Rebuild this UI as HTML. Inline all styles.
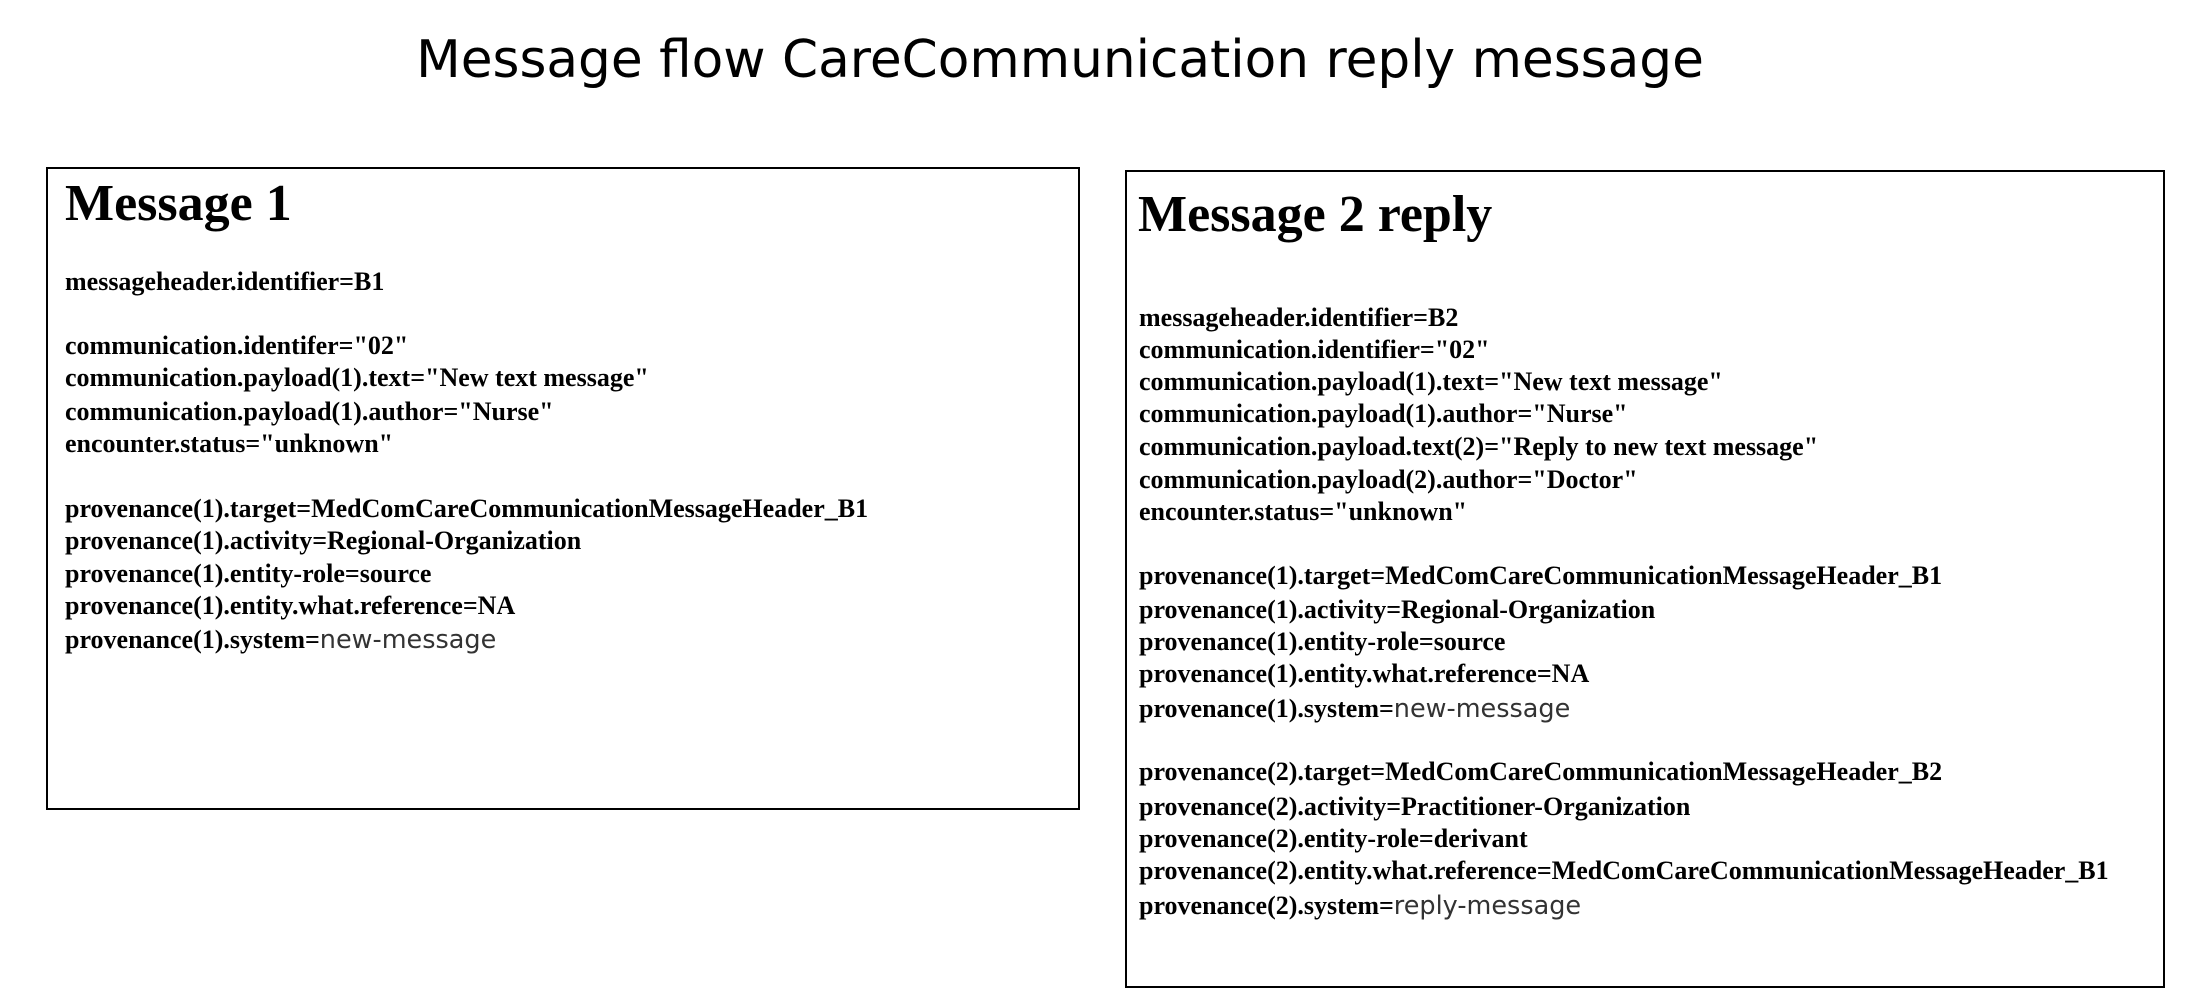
<!DOCTYPE html>
<html><head><style>
html,body{margin:0;padding:0;background:#fff;}
body{width:2188px;height:1006px;position:relative;overflow:hidden;}
.t{position:absolute;left:0;width:2120px;text-align:center;top:28px;font-family:"DejaVu Sans","Liberation Sans",sans-serif;font-size:51.7px;color:#000;line-height:64px;}
.box{position:absolute;border:2px solid #000;box-sizing:border-box;}
.h{position:absolute;font-family:"Liberation Serif",serif;font-weight:bold;font-size:52px;line-height:60px;white-space:nowrap;}
.l{position:absolute;font-family:"Liberation Serif",serif;font-weight:bold;font-size:26px;line-height:32px;white-space:nowrap;}
.l span{font-family:"DejaVu Sans",sans-serif;font-weight:normal;color:#333;font-size:25.5px;}
</style></head><body>
<div class="t">Message flow CareCommunication reply message</div>
<div class="box" style="left:46px;top:167px;width:1034px;height:643px;"></div>
<div class="box" style="left:1125px;top:170px;width:1040px;height:818px;"></div>

<div class="h" style="left:65px;top:174px;">Message 1</div>
<div class="l" style="left:65px;top:266px;">messageheader.identifier=B1</div>
<div class="l" style="left:65px;top:330px;">communication.identifer="02"</div>
<div class="l" style="left:65px;top:362px;">communication.payload(1).text="New text message"</div>
<div class="l" style="left:65px;top:396px;">communication.payload(1).author="Nurse"</div>
<div class="l" style="left:65px;top:428px;">encounter.status="unknown"</div>
<div class="l" style="left:65px;top:493px;">provenance(1).target=MedComCareCommunicationMessageHeader_B1</div>
<div class="l" style="left:65px;top:525px;">provenance(1).activity=Regional-Organization</div>
<div class="l" style="left:65px;top:558px;">provenance(1).entity-role=source</div>
<div class="l" style="left:65px;top:590px;">provenance(1).entity.what.reference=NA</div>
<div class="l" style="left:65px;top:624px;">provenance(1).system=<span>new-message</span></div>

<div class="h" style="left:1138px;top:185px;">Message 2 reply</div>
<div class="l" style="left:1139px;top:302px;">messageheader.identifier=B2</div>
<div class="l" style="left:1139px;top:334px;">communication.identifier="02"</div>
<div class="l" style="left:1139px;top:366px;">communication.payload(1).text="New text message"</div>
<div class="l" style="left:1139px;top:398px;">communication.payload(1).author="Nurse"</div>
<div class="l" style="left:1139px;top:431px;">communication.payload.text(2)="Reply to new text message"</div>
<div class="l" style="left:1139px;top:464px;">communication.payload(2).author="Doctor"</div>
<div class="l" style="left:1139px;top:496px;">encounter.status="unknown"</div>
<div class="l" style="left:1139px;top:560px;">provenance(1).target=MedComCareCommunicationMessageHeader_B1</div>
<div class="l" style="left:1139px;top:594px;">provenance(1).activity=Regional-Organization</div>
<div class="l" style="left:1139px;top:626px;">provenance(1).entity-role=source</div>
<div class="l" style="left:1139px;top:658px;">provenance(1).entity.what.reference=NA</div>
<div class="l" style="left:1139px;top:693px;">provenance(1).system=<span>new-message</span></div>
<div class="l" style="left:1139px;top:756px;">provenance(2).target=MedComCareCommunicationMessageHeader_B2</div>
<div class="l" style="left:1139px;top:791px;">provenance(2).activity=Practitioner-Organization</div>
<div class="l" style="left:1139px;top:823px;">provenance(2).entity-role=derivant</div>
<div class="l" style="left:1139px;top:855px;">provenance(2).entity.what.reference=MedComCareCommunicationMessageHeader_B1</div>
<div class="l" style="left:1139px;top:890px;">provenance(2).system=<span>reply-message</span></div>
</body></html>
